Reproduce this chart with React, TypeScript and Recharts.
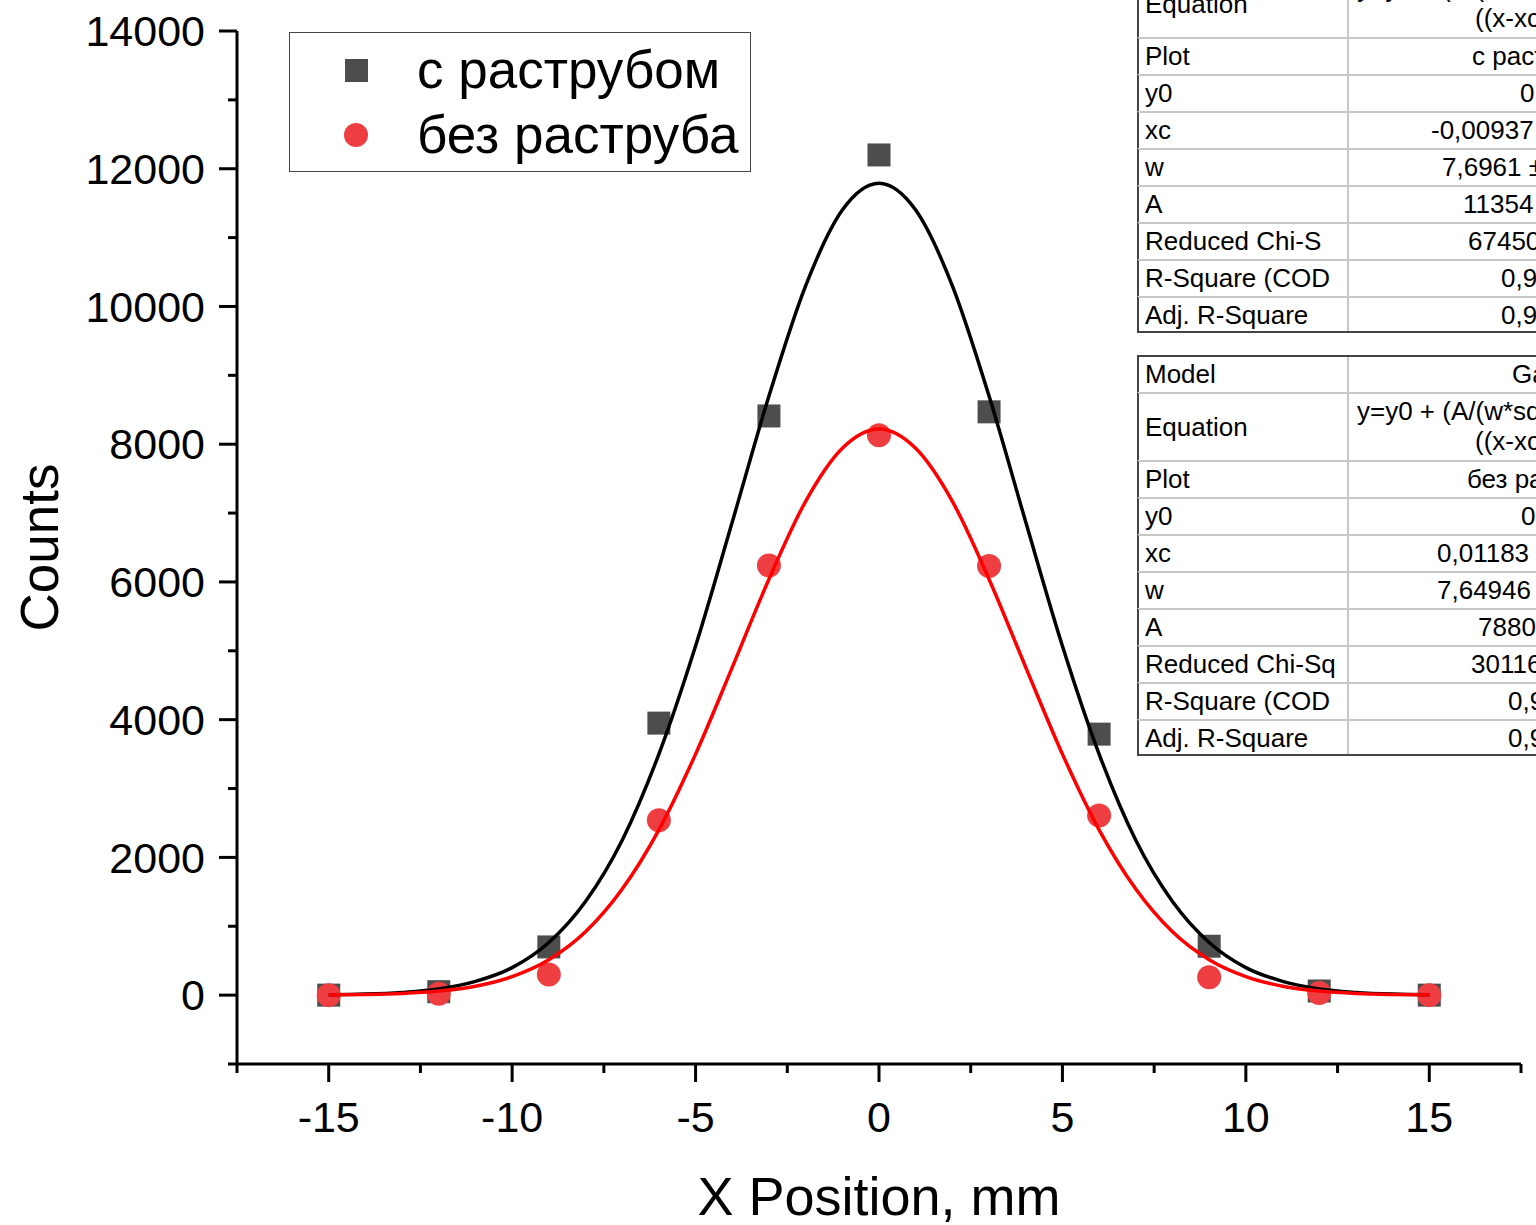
import React from 'react';
import {
  ComposedChart, Scatter, Line, XAxis, YAxis, Legend
} from 'recharts';

// measured points (x in mm, counts)
const positions = [-15, -12, -9, -6, -3, 0, 3, 6, 9, 12, 15];
const withHorn = [0, 50, 700, 3950, 8410, 12200, 8470, 3790, 710, 60, 0];
const withoutHorn = [0, 20, 300, 2540, 6240, 8130, 6230, 2610, 260, 30, 0];

// gaussian fit curves
const fitX = [-15, -14, -13, -12, -11, -10, -9, -8, -7, -6, -5, -4, -3, -2, -1, 0, 1, 2, 3, 4, 5, 6, 7, 8, 9, 10, 11, 12, 13, 14, 15];
const fitWithHorn = [5, 15, 40, 90, 200, 400, 765, 1360, 2250, 3500, 5070, 6870, 8700, 10300, 11400, 11790, 11400, 10300, 8700, 6870, 5070, 3500, 2250, 1360, 765, 400, 200, 90, 40, 15, 5];
const fitWithoutHorn = [4, 10, 25, 60, 130, 270, 515, 920, 1540, 2400, 3500, 4760, 6040, 7170, 7940, 8220, 7940, 7170, 6040, 4760, 3500, 2400, 1540, 920, 515, 270, 130, 60, 25, 10, 4];

const xTicks = [-15, -10, -5, 0, 5, 10, 15];
const xMinorTicks = [-17.5, -12.5, -7.5, -2.5, 2.5, 7.5, 12.5, 17.5];
const yTicks = [0, 2000, 4000, 6000, 8000, 10000, 12000, 14000];
const yMinorTicks = [-1000, 1000, 3000, 5000, 7000, 9000, 11000, 13000];

const seriesNames = ['с раструбом', 'без раструба'];

// fit report tables (cut off at the right edge in the original)
const table1Rows = [
  ['Model', 'Gauss', 1512],
  ['Equation', 'y=y0 + (A/(w*sqrt(PI/2)))*exp(-2*', 1357, '((x-xc)/w)^2)', 1475],
  ['Plot', 'с раструбом', 1472],
  ['y0', '0', 1520],
  ['xc', '-0,00937', 1431],
  ['w', '7,6961 ±', 1442],
  ['A', '11354', 1463],
  ['Reduced Chi-S', '67450', 1468],
  ['R-Square (COD', '0,99', 1501],
  ['Adj. R-Square', '0,99', 1501],
];
const table2Rows = [
  ['Model', 'Gauss', 1512],
  ['Equation', 'y=y0 + (A/(w*sqrt(PI/2)))*exp(-2*', 1357, '((x-xc)/w)^2)', 1475],
  ['Plot', 'без раструба', 1467],
  ['y0', '0', 1521],
  ['xc', '0,01183', 1437],
  ['w', '7,64946', 1437],
  ['A', '78800', 1478],
  ['Reduced Chi-Sq', '30116', 1471],
  ['R-Square (COD', '0,99', 1508],
  ['Adj. R-Square', '0,99', 1508],
];

const FONT = '"Liberation Sans", Arial, sans-serif';
const MAJOR = 18;
const MINOR = 9;

const points = (ys: number[]) => positions.map((x, i) => ({ x, y: ys[i] }));
const curve = (ys: number[]) => fitX.map((x, i) => ({ x, y: ys[i] }));

const SquareDot = (p: any) => (
  <rect x={p.cx - 11.5} y={p.cy - 11.5} width={23} height={23} fill="#4d4d4d" />
);
const RoundDot = (p: any) => <circle cx={p.cx} cy={p.cy} r={12} fill="#ef3e42" />;

// ticks drawn by hand so major and minor ones get different lengths
const XTick = (p: any) => {
  const major = xTicks.includes(p.payload.value);
  return (
    <g>
      <line x1={p.x} x2={p.x} y1={p.y} y2={p.y + (major ? MAJOR : MINOR)} stroke="#000" strokeWidth={3} />
      {major && (
        <text x={p.x} y={p.y + MAJOR + 19} dy="0.71em" textAnchor="middle" fontSize={43} fontFamily={FONT} fill="#000">
          {p.payload.value}
        </text>
      )}
    </g>
  );
};

const YTick = (p: any) => {
  const major = yTicks.includes(p.payload.value);
  return (
    <g>
      <line x1={p.x - (major ? MAJOR : MINOR)} x2={p.x} y1={p.y} y2={p.y} stroke="#000" strokeWidth={3} />
      {major && (
        <text x={p.x - MAJOR - 14} y={p.y} dy="0.355em" textAnchor="end" fontSize={43} fontFamily={FONT} fill="#000">
          {p.payload.value}
        </text>
      )}
    </g>
  );
};

const FitTable = ({ rows, top }: { rows: any[]; top: number }) => {
  let y = top;
  return (
    <div>
      {rows.map((r, i) => {
        const h = r[0] === 'Equation' ? 68 : 37;
        const rowTop = y;
        y += h;
        return (
          <div key={i} style={{ position: 'absolute', left: 1137, top: rowTop, width: 420, height: h,
            borderTop: i === 0 ? '2px solid #444' : '2px solid #c8c8c8', borderLeft: '2px solid #444',
            borderBottom: i === rows.length - 1 ? '2px solid #444' : 'none', boxSizing: 'border-box',
            fontSize: 26, fontFamily: FONT, color: '#000' }}>
            <div style={{ position: 'absolute', left: 208, top: 0, bottom: 0, borderLeft: '2px solid #c8c8c8' }} />
            <div style={{ position: 'absolute', left: 6, top: 0, height: h - 2, lineHeight: `${h - 2}px`, whiteSpace: 'nowrap' }}>{r[0]}</div>
            {r.length > 3 ? (
              <>
                <div style={{ position: 'absolute', left: r[2] - 1139, top: 2, lineHeight: '30px', whiteSpace: 'nowrap' }}>{r[1]}</div>
                <div style={{ position: 'absolute', left: r[4] - 1139, top: 32, lineHeight: '30px', whiteSpace: 'nowrap' }}>{r[3]}</div>
              </>
            ) : (
              <div style={{ position: 'absolute', left: r[2] - 1139, top: 0, height: h - 2, lineHeight: `${h - 2}px`, whiteSpace: 'nowrap' }}>{r[1]}</div>
            )}
          </div>
        );
      })}
    </div>
  );
};

const renderLegend = () => (
  <div style={{ position: 'relative', width: 462, height: 140, border: '1px solid #444', boxSizing: 'border-box', background: '#fff', fontFamily: FONT }}>
    <div style={{ position: 'absolute', left: 55, top: 26, width: 23, height: 23, background: '#4d4d4d' }} />
    <div style={{ position: 'absolute', left: 54, top: 90, width: 24, height: 24, borderRadius: 12, background: '#ef3e42' }} />
    <div style={{ position: 'absolute', left: 127, top: 6, fontSize: 53, lineHeight: '62px', whiteSpace: 'nowrap' }}>{seriesNames[0]}</div>
    <div style={{ position: 'absolute', left: 127, top: 71, fontSize: 53, lineHeight: '62px', whiteSpace: 'nowrap' }}>{seriesNames[1]}</div>
  </div>
);

export default function App() {
  const lineStyle = { stroke: '#000', strokeWidth: 3 };
  const allX = [...xMinorTicks, ...xTicks].sort((a, b) => a - b);
  const allY = [...yMinorTicks, ...yTicks].sort((a, b) => a - b);
  return (
    <div style={{ position: 'absolute', left: 0, top: 0, width: 1536, height: 1225, overflow: 'hidden', background: '#fff' }}>
      <ComposedChart width={1536} height={1225} margin={{ top: 31, right: 15, bottom: 0, left: 0 }}>
        <XAxis type="number" dataKey="x" domain={[-17.5, 17.5]} ticks={allX} height={161}
          tickSize={0} tickMargin={0} tick={XTick} interval={0} tickLine={false}
          axisLine={lineStyle} allowDataOverflow
          label={{
            content: (props: any) => {
              const vb = props.viewBox;
              return (
                <text x={vb.x + vb.width / 2} y={vb.y + vb.height - 10} textAnchor="middle" fontSize={54} fontFamily={FONT} fill="#000">
                  X Position, mm
                </text>
              );
            },
          }} />
        <YAxis type="number" dataKey="y" domain={[-1000, 14000]} ticks={allY} width={237}
          tickSize={0} tickMargin={0} tick={YTick} interval={0} tickLine={false}
          axisLine={lineStyle} allowDataOverflow
          label={{
            content: (props: any) => {
              const vb = props.viewBox;
              const cx = vb.x + 58;
              const cy = vb.y + vb.height / 2;
              return (
                <text x={cx} y={cy} transform={`rotate(-90 ${cx} ${cy})`} textAnchor="middle" fontSize={53} fontFamily={FONT} fill="#000">
                  Counts
                </text>
              );
            },
          }} />
        <Legend verticalAlign="middle" layout="horizontal" content={renderLegend}
          wrapperStyle={{ left: 289, top: 32, width: 462, height: 140 }} />
        <Scatter name={seriesNames[0]} data={points(withHorn)} dataKey="y" shape={SquareDot}
          isAnimationActive={false} zIndex={300} />
        <Scatter name={seriesNames[1]} data={points(withoutHorn)} dataKey="y" shape={RoundDot}
          isAnimationActive={false} zIndex={310} />
        <Line data={curve(fitWithHorn)} dataKey="y" type="monotone" stroke="#000" strokeWidth={3.5}
          dot={false} activeDot={false} isAnimationActive={false} legendType="none" zIndex={400} />
        <Line data={curve(fitWithoutHorn)} dataKey="y" type="monotone" stroke="#ff0000" strokeWidth={3.5}
          dot={false} activeDot={false} isAnimationActive={false} legendType="none" zIndex={410} />
      </ComposedChart>
      <FitTable rows={table1Rows} top={-68} />
      <FitTable rows={table2Rows} top={355} />
    </div>
  );
}
